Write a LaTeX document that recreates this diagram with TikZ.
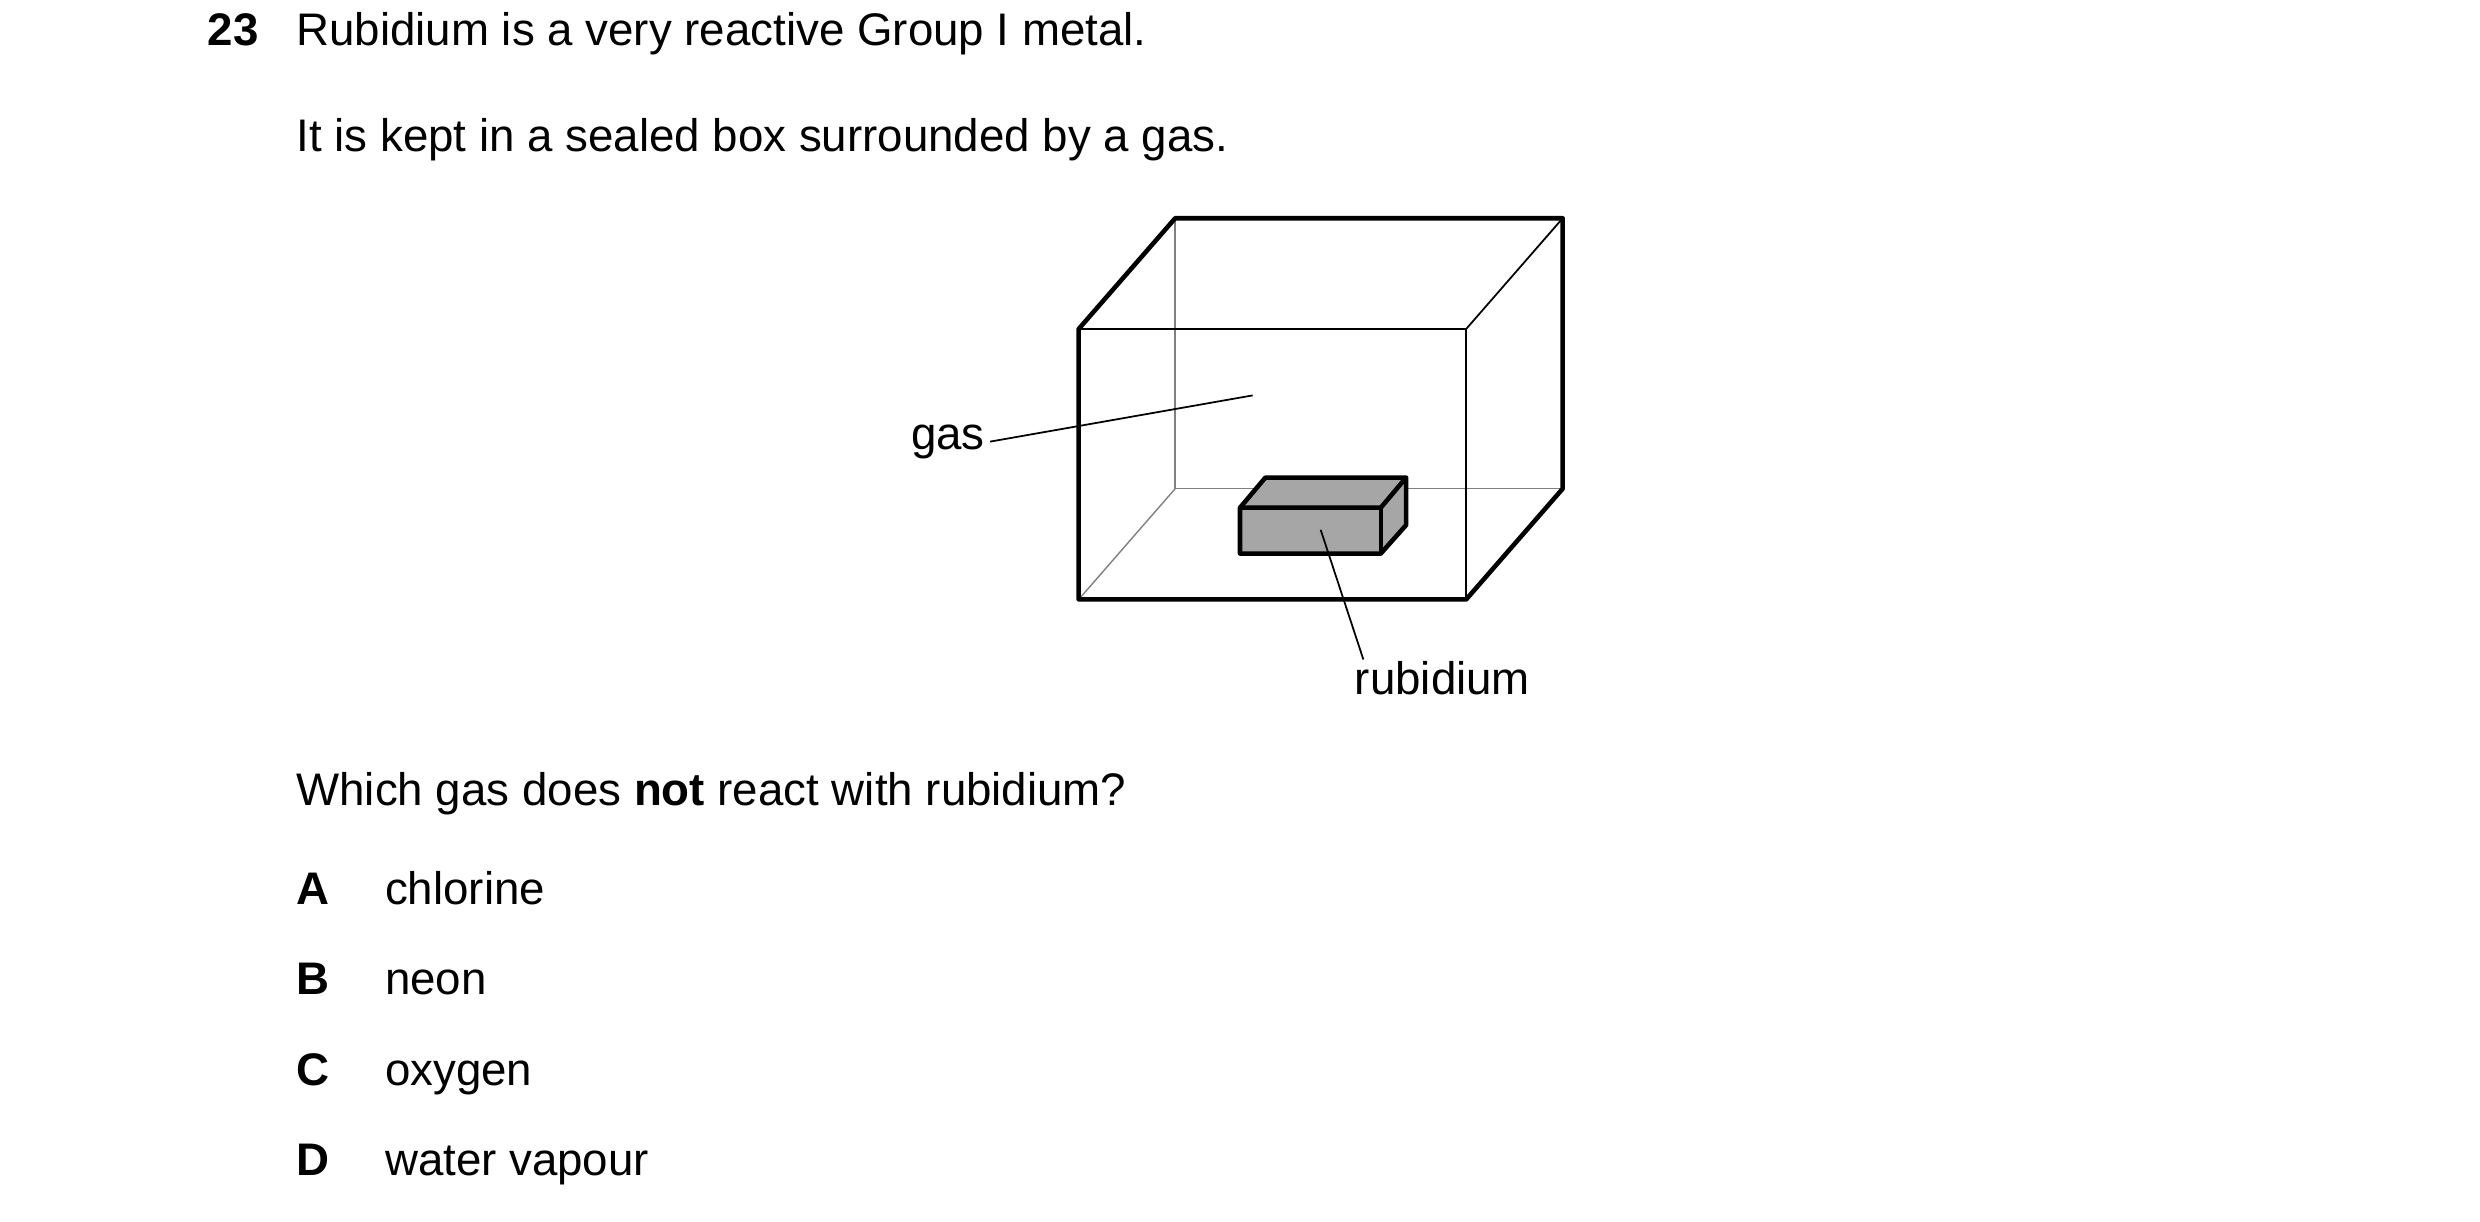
\documentclass[tikz,border=0pt]{standalone}
\usepackage{fontspec}
\setmainfont{Liberation Sans}
\begin{document}
\begin{tikzpicture}[x=0.01582cm, y=-0.01582cm,
    txt/.style = {anchor = base west, inner sep = 0pt, font = \fontsize{13pt}{15pt}\selectfont},
    thick edge/.style = {line width = 1.3pt, line join = round},
    thin edge/.style = {line width = 0.5pt},
    back edge/.style = {line width = 0.4pt, gray}]
  \useasboundingbox (0,0) rectangle (1568,772);
  % question text
  \node [txt] (num) at (131, 29) {\textbf{23}};
  \node [txt] (l1) at (187, 29) {Rubidium is a very reactive Group I metal.};
  \node [txt] (l2) at (187, 96) {It is kept in a sealed box surrounded by a gas.};
  \node [txt] (l3) at (187, 509) {Which gas does \textbf{not} react with rubidium?};
  \foreach \letter/\answer/\y in {A/chlorine/572, B/neon/629, C/oxygen/686, D/water vapour/743}{
    \node [txt] (opt\letter) at (187, \y) {\textbf{\letter}};
    \node [txt] (ans\letter) at (243, \y) {\answer};
  }
  % box
  \coordinate (fbl) at (682, 379);
  \coordinate (fbr) at (927, 379);
  \coordinate (ftl) at (682, 208);
  \coordinate (ftr) at (927, 208);
  \coordinate (bbl) at (743, 309);
  \coordinate (bbr) at (988, 309);
  \coordinate (btl) at (743, 138);
  \coordinate (btr) at (988, 138);
  \draw [back edge] (btl) -- (bbl) -- (bbr);
  \draw [back edge] (bbl) -- (fbl);
  \draw [thin edge] (ftl) -- (ftr) -- (fbr);
  \draw [thin edge] (ftr) -- (btr);
  \draw [thick edge] (fbr) -- (fbl) -- (ftl) -- (btl) -- (btr) -- (bbr) -- cycle;
  % rubidium block
  \fill [gray!70] (784, 321) -- (800, 302) -- (889, 302) -- (889, 332) -- (873, 350) -- (784, 350) -- cycle;
  \draw [thick edge] (784, 321) -- (800, 302) -- (889, 302) -- (889, 332) -- (873, 350) -- (784, 350) -- cycle;
  \draw [thick edge] (784, 321) -- (873, 321) -- (889, 302);
  \draw [thick edge] (873, 321) -- (873, 350);
  % labels
  \node [txt, anchor = base east] (gas) at (623, 284) {gas};
  \coordinate (gasend) at (792, 250);
  \draw [thin edge] (gas.east) ++(3,0) coordinate (gasstart) -- (gasend);
  \node [txt, anchor = base] (rb) at (912, 439) {rubidium};
  \coordinate (rbend) at (835, 335);
  \draw [thin edge] (862, 417) -- (rbend);
\end{tikzpicture}
\end{document}
